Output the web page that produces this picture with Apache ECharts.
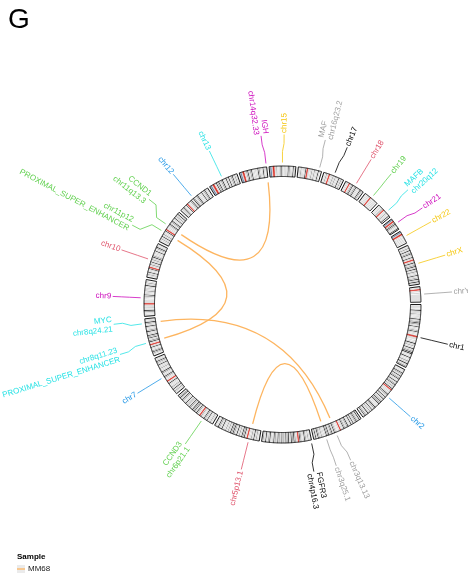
<!DOCTYPE html>
<html>
<head>
<meta charset="utf-8">
<script src="https://cdn.jsdelivr.net/npm/echarts@6/dist/echarts.min.js"></script>
<style>
  html, body { margin: 0; padding: 0; background: #ffffff; }
  #chart { width: 468px; height: 579px; }
</style>
</head>
<body>
<div id="chart"></div>
<script>
// ---------------- genome (hg19, Mb) ----------------
const chromNames = ['chr1','chr2','chr3','chr4','chr5','chr6','chr7','chr8','chr9','chr10','chr11','chr12',
  'chr13','chr14','chr15','chr16','chr17','chr18','chr19','chr20','chr21','chr22','chrX','chrY'];
const chromLengthMb = [249.25,243.2,198.0,191.15,180.9,171.1,159.1,146.4,141.2,135.5,135.0,133.85,
  115.2,107.35,102.5,90.35,81.2,78.1,59.1,63.0,48.1,51.3,155.3,59.4];
const centromereMb = [125.0,93.3,91.0,50.4,48.4,59.8,59.9,45.6,49.0,40.2,53.7,35.8,
  17.9,17.6,19.0,36.6,24.0,17.2,26.5,27.5,13.2,14.7,60.6,12.5];

// cytoband stains, p-ter -> centromere and centromere -> q-ter
// n gneg, a gpos25, b gpos50, c gpos75, d gpos100, v gvar, s stalk, r acen
const pArmBands = [
  'nanbnanbndnanbncnanbnbndnbncndncnbndnbnancndnbnanbr',
  'nbnanbndncnbndnbncndnbnandnbncndnancnbndnr',
  'nbndnbncndncnbndnbndnanbndncnbncndnbnanr',
  'nbnbncnbncndnbnancndnr',
  'nbnbncnbndnbncnanbnr',
  'nbnbncnbnbndnbncndnbnancnr',
  'nbnbncnbndnbncnbnbnandnbnr',
  'nbnbncndncnbnandnbnr',
  'nbnbnbncndnbncnanbnr',
  'nbnbncnbndnbnandnr',
  'nbnbncnbndnbncnbnandnr',
  'nbnbncndnbnandnr',
  'vsvr', 'vsvr', 'vsvr',
  'nbnbncnbnbnandnr',
  'nbnbncnanr',
  'nbnbnanr',
  'nbnbnbnanbnr',
  'nbnbnbnancnr',
  'vsvr', 'vsvr',
  'nbnbncnbndnbncndnbnandnbnr',
  'nbnanr'
];
const qArmBands = [
  'rvvvvnbnandnbncnbndnbncndndnanbndnbnancnbndnbncn',
  'rnbnanbndncnbndnbndnbncndncndnbnanbndncnbndnbncnbndnancndnbn',
  'rnbnvnbncndnbndncnbndncndnbnanbncnbncndnbndnan',
  'rnbncndncndnbndncndnbncndnbncndnbncndnbnandncnbndnbncn',
  'rnbndncndnbncnbndnbncndncndnbncnbncnanbndnbncndnbnan',
  'rnbncndnbndncndnbncndnbncnbndnanbncndnbndncnb',
  'rnbnbncndnbnbncndnbnbncnbnandnbncndnbnan',
  'rnbndncnbndncndnbnbndncnanbndnbncndnbnan',
  'rvvvvvnbnbncndnbnbncnbnbnandnbncnbnn',
  'rnbncnbndnbncnbndncnbnbnandnbncndnbnan',
  'rnbnbnbncndnbncndnbnandnbncnbndnan',
  'rnbnbncndnbndncnbncndnbnbnandnbncndnbnan',
  'rnbndncndnbncndnbnbndnandnbncndnbncnan',
  'rnbncndnbncndnbnbnanbndncnbnandnbnan',
  'rnbncnbnbncndnbnbnanbndncnbnandnbn',
  'rvvvnbncnbncnbnandnbnn',
  'rnbnbncnbncnbnandnbncnan',
  'rnbncndnbncndnbnanbndncnan',
  'rvnbnbnbnanbnn',
  'rnbnbncnbnandnn',
  'rncndncnbnandn',
  'rnbnbnbnanbnann',
  'rnbndnbncndnbndnbncnbnandnbncndnbndnan',
  'rnbnbnvvvvvvvvvn'
];

// ---------------- structural variant links (sample MM68) ----------------
const linkSample    = ['MM68', 'MM68', 'MM68', 'MM68'];
const linkFromChrom = ['chr14', 'chr11', 'chr8', 'chr5'];
const linkFromMb    = [106.2, 40.0, 128.7, 40.0];
const linkToChrom   = ['chr11', 'chr8', 'chr3', 'chr3'];
const linkToMb      = [69.4, 54.5, 109.5, 151.0];

// ---------------- outer labels ----------------
const labelText = ['chr1', 'chr2', 'chr3q13.13', 'chr3q25.1', 'FGFR3\nchr4p16.3', 'chr5p13.1', 'CCND3\nchr6p21.1',
  'chr7', 'chr8q11.23\nPROXIMAL_SUPER_ENHANCER', 'MYC\nchr8q24.21', 'chr9', 'chr10',
  'chr11p12\nPROXIMAL_SUPER_ENHANCER', 'CCND1\nchr11q13.3', 'chr12', 'chr13', 'IGH\nchr14q32.33', 'chr15',
  'MAF\nchr16q23.2', 'chr17', 'chr18', 'chr19', 'MAFB\nchr20q12', 'chr21', 'chr22', 'chrX', 'chrY'];
const labelChrom = ['chr1', 'chr2', 'chr3', 'chr3', 'chr4', 'chr5', 'chr6', 'chr7', 'chr8', 'chr8', 'chr9', 'chr10',
  'chr11', 'chr11', 'chr12', 'chr13', 'chr14', 'chr15', 'chr16', 'chr17', 'chr18', 'chr19', 'chr20', 'chr21',
  'chr22', 'chrX', 'chrY'];
const labelMb = [124.6, 121.6, 109.5, 151.0, 1.8, 40.0, 41.9, 79.5, 54.5, 128.7, 70.6, 67.7, 40.0, 69.4, 66.9,
  57.6, 106.2, 51.2, 79.6, 40.6, 39.0, 29.5, 39.3, 24.0, 25.6, 77.6, 29.7];

// ---------------- styling ----------------
const PALETTE = { black: '#000000', red: '#DF536B', green: '#61D04F', blue: '#2297E6', cyan: '#28E2E5',
  magenta: '#CD0BBC', yellow: '#F5C710', gray: '#9E9E9E' };
const CHROM_COLOR = { chr1: 'black', chr2: 'blue', chr3: 'gray', chr4: 'black', chr5: 'red', chr6: 'green',
  chr7: 'blue', chr8: 'cyan', chr9: 'magenta', chr10: 'red', chr11: 'green', chr12: 'blue', chr13: 'cyan',
  chr14: 'magenta', chr15: 'yellow', chr16: 'gray', chr17: 'black', chr18: 'red', chr19: 'green', chr20: 'cyan',
  chr21: 'magenta', chr22: 'yellow', chrX: 'yellow', chrY: 'gray' };
const STAIN_COLOR = { n: '#FFFFFF', a: '#C8C8C8', b: '#C8C8C8', c: '#828282', d: '#000000',
  v: '#DCDCDC', s: '#647FA4', r: '#D92F27' };
const LINK_COLOR = '#FDB560';
const FONT = '"Liberation Sans", Arial, Helvetica, sans-serif';

const R_IN = 128, R_OUT = 138.5, R_LINK = 123;
const R_CON = [142, 153, 161, 170], R_TEXT = 171.5;
const GAP_DEG = 1;
const LABEL_HALF_DEG = 2.6;   // angular half-height per text line used for label spreading

// ---------------- genome axis ----------------
const TOTAL_LEN = chromLengthMb.reduce((a, b) => a + b, 0);
const GAP = TOTAL_LEN * GAP_DEG / (360 - GAP_DEG * chromNames.length);
const AXIS_MAX = TOTAL_LEN + GAP * chromNames.length;
const chromOffset = [];
(function () { let acc = 0; chromLengthMb.forEach(l => { chromOffset.push(acc); acc += l + GAP; }); })();
const gpos = (chrom, mb) => chromOffset[chromNames.indexOf(chrom)] + mb;

// flatten cytobands
const bands = [];
chromNames.forEach((c, i) => {
  const p = pArmBands[i], q = qArmBands[i], cen = centromereMb[i], len = chromLengthMb[i];
  for (let k = 0; k < p.length; k++) bands.push({ chr: i, s: cen * k / p.length, e: cen * (k + 1) / p.length, stain: p[k] });
  for (let k = 0; k < q.length; k++) bands.push({ chr: i, s: cen + (len - cen) * k / q.length, e: cen + (len - cen) * (k + 1) / q.length, stain: q[k] });
});

// spread labels so neighbouring texts do not collide
const labelTrue = labelChrom.map((c, i) => gpos(c, labelMb[i]));
const order = labelTrue.map((v, i) => i).sort((a, b) => labelTrue[a] - labelTrue[b]);
const labelAt = labelTrue.slice();
const unitPerDeg = AXIS_MAX / 360;
const halfExt = labelText.map(t => t.split('\n').length * LABEL_HALF_DEG * unitPerDeg);
for (let it = 0; it < 400; it++) {
  for (let k = 0; k < order.length - 1; k++) {
    const i = order[k], j = order[k + 1];
    const need = halfExt[i] + halfExt[j];
    const gap = labelAt[j] - labelAt[i];
    if (gap < need) { const d = (need - gap) / 2; labelAt[i] -= d; labelAt[j] += d; }
  }
}

function arcPolygon(api, r0, r1, a0, a1) {
  const n = Math.max(2, Math.ceil((a1 - a0) / 1.0) + 1);
  const pts = [];
  for (let k = 0; k < n; k++) pts.push(api.coord([r1, a0 + (a1 - a0) * k / (n - 1)]));
  for (let k = n - 1; k >= 0; k--) pts.push(api.coord([r0, a0 + (a1 - a0) * k / (n - 1)]));
  return pts;
}

const chart = echarts.init(document.getElementById('chart'), null, { renderer: 'canvas' });

chart.setOption({
  animation: false,
  backgroundColor: '#ffffff',
  polar: { center: [282.5, 304.5], radius: 200 },
  radiusAxis: { type: 'value', min: 0, max: 200, show: false },
  angleAxis: { type: 'value', min: 0, max: AXIS_MAX, startAngle: 0, clockwise: true, show: false },
  graphic: [
    { type: 'text', left: 8, top: 6, style: { text: 'G', font: '28px ' + FONT, fill: '#000' } },
    { type: 'text', left: 17, top: 553, style: { text: 'Sample', font: 'bold 8px ' + FONT, fill: '#000' } },
    { type: 'rect', left: 17, top: 565, shape: { width: 8, height: 8 }, style: { fill: '#EBEBEB' } },
    { type: 'line', shape: { x1: 17, y1: 569, x2: 25, y2: 569 }, style: { stroke: LINK_COLOR, lineWidth: 1.3 } },
    { type: 'text', left: 28, top: 565, style: { text: linkSample[0], font: '8px ' + FONT, fill: '#222' } }
  ],
  series: [
    {
      // cytoband fill
      type: 'custom', coordinateSystem: 'polar', silent: true,
      data: bands.map(b => [R_OUT, chromOffset[b.chr] + b.s]),
      renderItem: (params, api) => {
        const b = bands[params.dataIndex];
        const col = STAIN_COLOR[b.stain];
        return {
          type: 'polygon',
          shape: { points: arcPolygon(api, R_IN, R_OUT, chromOffset[b.chr] + b.s, chromOffset[b.chr] + b.e) },
          style: { fill: col, stroke: col, lineWidth: 0.3 }
        };
      }
    },
    {
      // chromosome outlines
      type: 'custom', coordinateSystem: 'polar', silent: true,
      data: chromNames.map((c, i) => [R_OUT, chromOffset[i]]),
      renderItem: (params, api) => {
        const i = params.dataIndex;
        return {
          type: 'polygon',
          shape: { points: arcPolygon(api, R_IN, R_OUT, chromOffset[i], chromOffset[i] + chromLengthMb[i]) },
          style: { fill: 'none', stroke: '#000', lineWidth: 0.9 }
        };
      }
    },
    {
      // links
      type: 'custom', name: 'MM68', coordinateSystem: 'polar', silent: true,
      data: linkFromChrom.map((c, i) => [R_LINK, gpos(c, linkFromMb[i])]),
      renderItem: (params, api) => {
        const i = params.dataIndex;
        const a = api.coord([R_LINK, gpos(linkFromChrom[i], linkFromMb[i])]);
        const b = api.coord([R_LINK, gpos(linkToChrom[i], linkToMb[i])]);
        const c = api.coord([0, 0]);
        return {
          type: 'bezierCurve',
          shape: { x1: a[0], y1: a[1], x2: b[0], y2: b[1], cpx1: c[0], cpy1: c[1] },
          style: { stroke: LINK_COLOR, fill: 'none', lineWidth: 1.3 }
        };
      }
    },
    {
      // labels with connectors
      type: 'custom', coordinateSystem: 'polar', silent: true,
      data: labelTrue.map(v => [R_TEXT, v]),
      renderItem: (params, api) => {
        const i = params.dataIndex;
        const col = PALETTE[CHROM_COLOR[labelChrom[i]]];
        const t = labelTrue[i], l = labelAt[i];
        const pts = [api.coord([R_CON[0], t]), api.coord([R_CON[1], t]), api.coord([R_CON[2], l]), api.coord([R_CON[3], l])];
        const c = api.coord([0, 0]);
        const p = api.coord([R_TEXT, l]);
        const th = Math.atan2(p[1] - c[1], p[0] - c[0]);
        const right = Math.cos(th) >= 0;
        return {
          type: 'group',
          children: [
            { type: 'polyline', shape: { points: pts }, style: { stroke: col, fill: 'none', lineWidth: 0.8 } },
            {
              type: 'text', x: p[0], y: p[1], rotation: right ? -th : Math.PI - th,
              style: {
                text: labelText[i], x: 0, y: 0, fill: col, font: '8px ' + FONT,
                align: right ? 'left' : 'right', verticalAlign: 'middle', lineHeight: 9.5
              }
            }
          ]
        };
      }
    }
  ]
});
</script>
</body>
</html>
